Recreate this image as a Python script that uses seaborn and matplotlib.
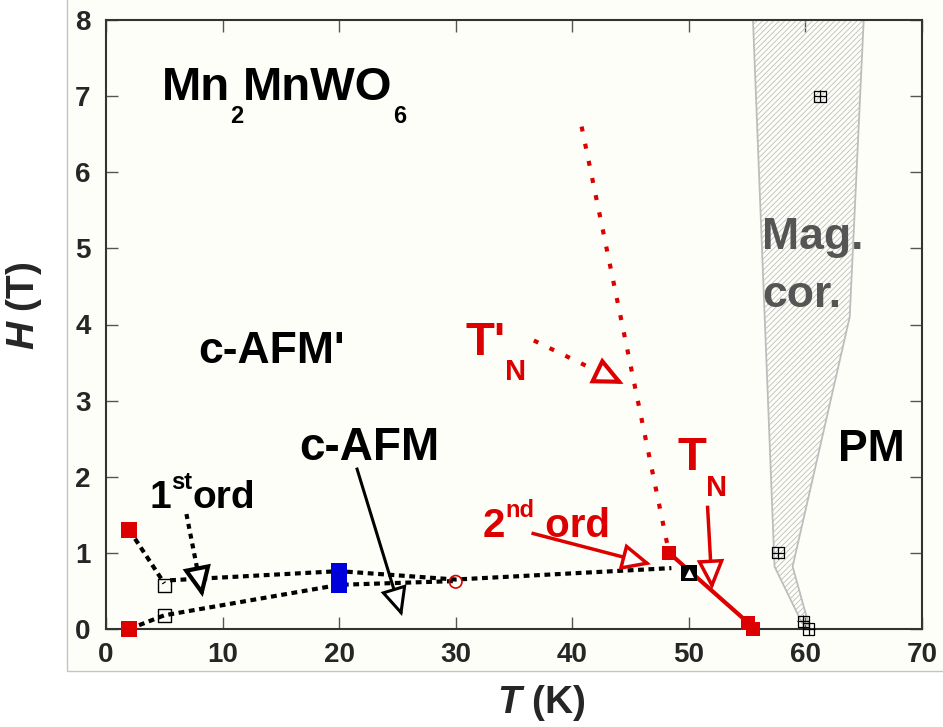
import numpy as np
import matplotlib
matplotlib.use("Agg")
import matplotlib.pyplot as plt
import matplotlib.transforms as mtransforms
from matplotlib.patches import Rectangle
import seaborn as sns

# ---------------- data (T in K, H in T) ----------------
# filled red squares: low-T transitions and T_N points
red_T = [2, 2, 48.3, 55.1, 55.5]
red_H = [1.3, 0.0, 1.0, 0.08, 0.0]
red_size = [11.5, 11.5, 9.5, 10, 10]

# open black squares
open_T = [5, 5]
open_H = [0.57, 0.18]

# blue squares at 20 K
blue_T = [20, 20]
blue_H = [0.58, 0.76]

# open red circle
circle_T = [30]
circle_H = [0.62]

# black square with triangle at T_N
tri_T = [50]
tri_H = [0.74]

# magnetic-correlation onset points
corr_T = [57.65, 61.25, 59.8, 60.3]
corr_H = [1.0, 7.0, 0.1, 0.0]

# dotted first-order guide lines
upper_T = [5.5, 20, 30, 48.5]
upper_H = [0.64, 0.76, 0.65, 0.8]
lower_T = [2, 5, 20, 30]
lower_H = [0.0, 0.18, 0.58, 0.63]
link_T = [2, 5]
link_H = [1.3, 0.6]

# T_N boundary (solid) and T'_N boundary (dotted)
tn_T = [48.3, 55.1, 55.5]
tn_H = [1.0, 0.08, 0.0]
tnp_T = [40.8, 48.3]
tnp_H = [6.6, 1.0]

# magnetic-correlation region outline
corr_region_T = [55.5, 57.35, 59.7, 60.3, 58.9, 63.8, 65.0]
corr_region_H = [8.0, 0.82, 0.08, 0.05, 0.82, 4.1, 8.0]

# axis ticks
x_ticks = [0, 10, 20, 30, 40, 50, 60, 70]
y_ticks = [0, 1, 2, 3, 4, 5, 6, 7, 8]

# ---------------- style ----------------
RED = "#dc0000"
BLUE = "#0000dc"
BLACK = "#000000"
GREY_TXT = "#555555"
BG = "#fefef9"

sns.set_theme(style="ticks")
plt.rcParams.update({
    "font.family": ["Liberation Sans", "DejaVu Sans"],
    "font.weight": "bold",
    "mathtext.fontset": "custom",
    "mathtext.rm": "Liberation Sans:bold",
    "mathtext.bf": "Liberation Sans:bold",
    "mathtext.it": "Liberation Sans:italic:bold",
    "hatch.color": "#bdbdbd",
    "hatch.linewidth": 0.6,
})

W, H = 943, 727
fig = plt.figure(figsize=(W / 100, H / 100), dpi=100, facecolor="white")
fig.subplots_adjust(left=106 / W, right=922 / W, bottom=1 - 629 / H, top=1 - 20 / H)
ax = fig.add_subplot(111)
ax.set_facecolor(BG)

# light frame behind the plot area
fig.patches.append(Rectangle((67 / W, 1 - 671 / H), 1.0, 1.0, transform=fig.transFigure,
                             facecolor=BG, edgecolor="#c4c4c4", lw=1.0, zorder=-10))

ax.set_xlim(0, 70)
ax.set_ylim(0, 8)
ax.set_xticks(x_ticks)
ax.set_yticks(y_ticks)
ax.tick_params(direction="in", length=8.5, width=1.0, color="#555555",
               top=True, right=True, labelsize=20, pad=9)
ax.tick_params(axis="y", pad=11)
for lab in ax.get_xticklabels() + ax.get_yticklabels():
    lab.set_fontweight("bold")
for sp in ax.spines.values():
    sp.set_linewidth(1.5)
    sp.set_color("#333333")

ax.set_xlabel(r"$T$ (K)", fontsize=28, fontweight="bold")
ax.set_ylabel(r"$H$ (T)", fontsize=28, fontweight="bold")
ax.xaxis.set_label_coords((541 - 106) / 816, (629 - 683) / 609)
ax.yaxis.set_label_coords((44 - 106) / 816, (629 - 306) / 609)

# ---------------- magnetic-correlation region ----------------
ax.fill(corr_region_T, corr_region_H, facecolor="none", edgecolor="#bdbdbd",
        hatch="//////", lw=1.3, zorder=1)

# ---------------- lines ----------------
blk_dash = (0, (1.4, 1.1))
sns.lineplot(x=link_T, y=link_H, sort=False, estimator=None, color=BLACK, lw=3.0,
             linestyle=blk_dash, ax=ax, zorder=2)
sns.lineplot(x=upper_T, y=upper_H, sort=False, estimator=None, color=BLACK, lw=3.0,
             linestyle=blk_dash, ax=ax, zorder=2)
sns.lineplot(x=lower_T, y=lower_H, sort=False, estimator=None, color=BLACK, lw=3.0,
             linestyle=blk_dash, ax=ax, zorder=2)
sns.lineplot(x=tnp_T, y=tnp_H, sort=False, estimator=None, color=RED, lw=3.0,
             linestyle=(0, (1.2, 3.0)), ax=ax, zorder=2)
sns.lineplot(x=tn_T, y=tn_H, sort=False, estimator=None, color=RED, lw=3.0,
             linestyle="-", ax=ax, zorder=2)

# ---------------- markers ----------------
for t, h, s in zip(red_T, red_H, red_size):
    sns.scatterplot(x=[t], y=[h], marker="s", s=s ** 2, color=RED, linewidth=0,
                    ax=ax, zorder=4, clip_on=False)
sns.scatterplot(x=open_T, y=open_H, marker="s", s=9 ** 2, color="none",
                edgecolor=BLACK, linewidth=1.0, ax=ax, zorder=4)
sns.scatterplot(x=blue_T, y=blue_H, marker="s", s=11.5 ** 2, color=BLUE,
                linewidth=0, ax=ax, zorder=4)
sns.scatterplot(x=circle_T, y=circle_H, marker="o", s=9 ** 2, color="none",
                edgecolor=RED, linewidth=1.2, ax=ax, zorder=4)
sns.scatterplot(x=tri_T, y=tri_H, marker="s", s=12 ** 2, color=BLACK,
                linewidth=0, ax=ax, zorder=4)
sns.scatterplot(x=tri_T, y=tri_H, marker="^", s=6.5 ** 2, color="white",
                linewidth=0, ax=ax, zorder=5)
sns.scatterplot(x=corr_T, y=corr_H, marker="s", s=8 ** 2, color="none",
                edgecolor=BLACK, linewidth=0.9, ax=ax, zorder=4, clip_on=False)
sns.scatterplot(x=corr_T, y=corr_H, marker="+", s=8 ** 2, color=BLACK,
                linewidth=0.9, ax=ax, zorder=4, clip_on=False)


# ---------------- open-headed arrows ----------------
def open_arrow(start, tip, color, dashes=None, lw=2.5, head_px=24, half_w=8.0):
    p0 = ax.transData.transform(start)
    p1 = ax.transData.transform(tip)
    u = (p1 - p0) / np.hypot(*(p1 - p0))
    base = ax.transData.inverted().transform(p1 - u * head_px)
    ax.plot([start[0], base[0]], [start[1], base[1]], color=color, lw=lw,
            linestyle=dashes if dashes else "-", solid_capstyle="butt", zorder=6)
    ax.annotate("", xy=tip, xytext=base,
                arrowprops=dict(arrowstyle=f"-|>,head_length={head_px * 0.72 / 10:.2f},"
                                           f"head_width={half_w / 10:.2f}",
                                color=color, fc="white", lw=lw, shrinkA=0, shrinkB=0,
                                mutation_scale=10, joinstyle="miter"),
                zorder=7)


open_arrow((6.9, 1.51), (8.3, 0.42), BLACK, dashes=(0, (1.2, 1.2)), lw=3.0)
open_arrow((21.5, 2.12), (25.4, 0.17), BLACK, lw=2.2)
open_arrow((36.7, 3.79), (44.4, 3.22), RED, dashes=(0, (1.2, 3.0)), lw=3.0)
open_arrow((36.5, 1.26), (46.75, 0.85), RED, lw=2.5)
open_arrow((51.6, 1.62), (52.0, 0.52), RED, lw=2.5)


# ---------------- labels ----------------
def chain_text(x, y, parts, color=BLACK):
    """Draw text pieces side by side; each piece is (text, size, vertical offset px)."""
    renderer = fig.canvas.get_renderer()
    dx = 0.0
    for s, size, dy in parts:
        tr = mtransforms.offset_copy(ax.transData, fig=fig, x=dx, y=dy, units="dots")
        t = ax.text(x, y, s, fontsize=size, color=color, fontweight="bold",
                    ha="left", va="baseline", transform=tr, zorder=8)
        dx += t.get_window_extent(renderer).width


chain_text(4.8, 6.95, [("Mn", 34, 0), ("2", 17, -23), ("MnWO", 34, 0), ("6", 17, -23)])
chain_text(7.9, 3.5, [("c-AFM'", 32, 0)])
chain_text(16.6, 2.22, [("c-AFM", 33, 0)])
chain_text(3.7, 1.59, [("1", 28, 0), ("st", 17, 19), ("ord", 28, 0)])
chain_text(32.3, 1.21, [("2", 29, 0), ("nd", 17, 20), (" ord", 29, 0)], color=RED)
chain_text(30.8, 3.6, [("T'", 34, 0), ("N", 21, -25)], color=RED)
chain_text(49.0, 2.09, [("T", 34, 0), ("N", 21, -26)], color=RED)
chain_text(62.8, 2.21, [("PM", 32, 0)])
chain_text(56.3, 4.99, [("Mag.", 32, 0)], color=GREY_TXT)
chain_text(56.3, 4.23, [("cor.", 32, 0)], color=GREY_TXT)

if ax.get_legend() is not None:
    ax.get_legend().remove()

fig.savefig("out.png", dpi=100, facecolor="white")
